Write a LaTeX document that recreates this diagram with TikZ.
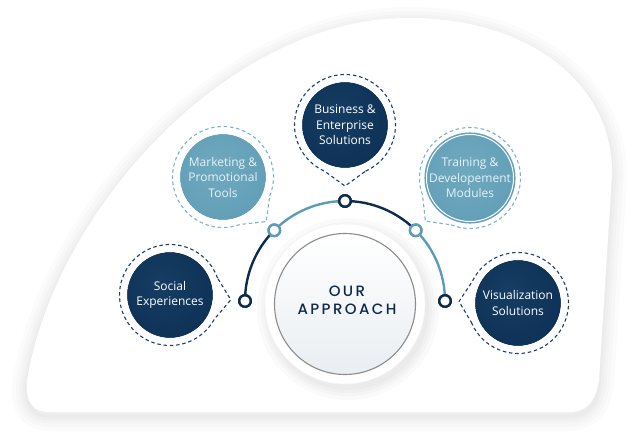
\documentclass[tikz,border=0pt]{standalone}
\usepackage{fontspec}
\setmainfont{Open Sans}
\newfontfamily\titlefont{Poppins}[UprightFont={* Medium}, LetterSpace=16]
\usetikzlibrary{calc}
\definecolor{navy}{HTML}{0B2C4F}
\definecolor{navyL}{HTML}{163D64}
\definecolor{teal}{HTML}{5E9CB4}
\definecolor{tealL}{HTML}{6FA9BF}
\definecolor{tealD}{HTML}{4F889F}
\definecolor{tealtext}{HTML}{E8F2F6}
\definecolor{tealdash}{HTML}{7DB3C9}
\definecolor{navydash}{HTML}{1E3F66}
\definecolor{arcteal}{HTML}{5C9CB8}
\definecolor{txtnavy}{HTML}{0F2A4C}
\definecolor{coreL}{HTML}{E9EEF2}
\pgfdeclareradialshading{navyball}{\pgfpoint{-6bp}{8bp}}{color(0bp)=(navyL); color(45bp)=(navy); color(50bp)=(navy)}
\pgfdeclareradialshading{tealball}{\pgfpoint{-4bp}{6bp}}{color(0bp)=(tealL); color(38bp)=(teal); color(50bp)=(tealD)}
\newcommand\pinring[4]{%
  \draw[ringline=#3] ($(#1)+({#2+24}:50.5)$) arc[start angle={#2+24}, end angle={#2+336}, radius=50.5] -- ($(#1)+(#2:#4)$) -- cycle;}
\begin{document}
\begin{tikzpicture}[x=1pt,y=1pt,
  bgshape/.style={insert path={(50,-412) -- (568,-412) .. controls (588,-412) and (596,-400) .. (599,-380) -- (612,-175) .. controls (614,-85) and (530,-18) .. (410,-18) .. controls (230,-16) and (55,-210) .. (27,-380) .. controls (25,-405) and (35,-412) .. (50,-412) -- cycle}},
  topic/.style={circle, minimum size=86pt, inner sep=0pt, align=center, font=\fontsize{12}{15.5}\selectfont},
  navytopic/.style={topic, shade, shading=navyball, text=white},
  tealtopic/.style={topic, shade, shading=tealball, text=tealtext},
  arcdot/.style={circle, draw=#1, fill=white, line width=2.4pt, minimum size=11.5pt, inner sep=0pt},
  arcseg/.style={draw=#1, line width=2.4pt},
  ringline/.style={draw=#1, line width=1.1pt, dash pattern=on 3.5pt off 2.8pt, line join=round},
]
\useasboundingbox (0,0) rectangle (636,-438);
% background shadow and card
\foreach \w in {30,22,15,9,4}{\path[draw=black, opacity=0.016, line width=\w pt, line join=round, yshift=-4pt, bgshape];}
\path[fill=white, bgshape];
% center circle
\foreach \r in {12,8,5,2}{\fill[black, opacity=0.02] (348,-309) circle[radius=79+\r];}
\node[circle, minimum size=160pt, fill=white, draw=black!4, line width=0.6pt] (outer) at (345,-304) {};
\node[circle, minimum size=141pt, draw=black!45, line width=1.1pt, shade, shading angle=45, top color=white, bottom color=coreL] (core) at (outer.center) {};
\node[font=\titlefont\fontsize{15}{18}\selectfont, text=txtnavy, align=center] (title) at (347,-300.5) {OUR\\APPROACH};
% arc nodes
\node[arcdot=navy] (p1) at (245,-301) {};
\node[arcdot=arcteal] (p2) at (274.3,-230.3) {};
\node[arcdot=navy] (p3) at (345,-201) {};
\node[arcdot=arcteal] (p4) at (415.7,-230.3) {};
\node[arcdot=navy] (p5) at (445,-301) {};
\draw[arcseg=navy] (p1.center) arc[start angle=180, end angle=135, radius=100];
\draw[arcseg=arcteal] (p2.center) arc[start angle=135, end angle=90, radius=100];
\draw[arcseg=navy] (p3.center) arc[start angle=90, end angle=45, radius=100];
\draw[arcseg=arcteal] (p4.center) arc[start angle=45, end angle=0, radius=100];
\node[arcdot=navy] at (p1) {};
\node[arcdot=arcteal] at (p2) {};
\node[arcdot=navy] at (p3) {};
\node[arcdot=arcteal] at (p4) {};
\node[arcdot=navy] at (p5) {};
% topics
\node[navytopic] (social) at (170,-295) {Social\\Experiences};
\node[tealtopic] (market) at (223,-177) {Marketing \&\\Promotional\\Tools};
\node[navytopic] (business) at (345,-125) {Business \&\\Enterprise\\Solutions};
\node[tealtopic] (training) at (470,-178) {Training \&\\Developement\\Modules};
\node[navytopic] (visual) at (518,-303) {Visualization\\Solutions};
\foreach \n in {social,market,business,training,visual}{\draw[white, line width=1pt] (\n) circle[radius=43.5];}
% dashed pin rings
\pinring{social}{-4.5}{navydash}{61}
\pinring{market}{-46}{tealdash}{62}
\pinring{business}{-90}{navydash}{61}
\pinring{training}{-136}{tealdash}{62}
\pinring{visual}{178.5}{navydash}{59}
\end{tikzpicture}
\end{document}
